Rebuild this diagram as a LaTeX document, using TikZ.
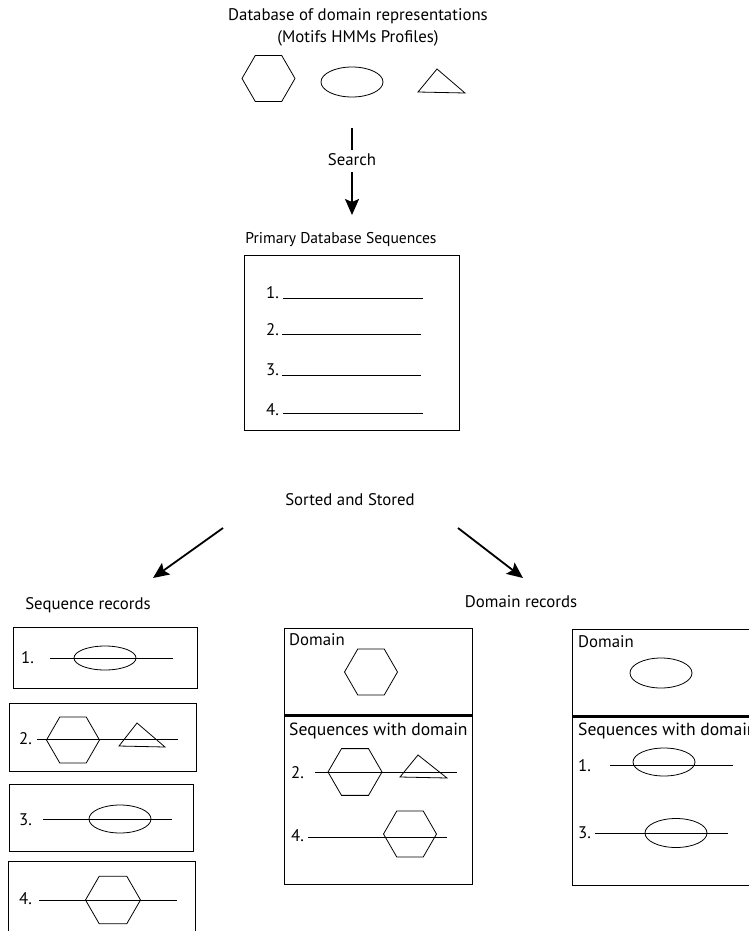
\documentclass[tikz,border=0pt]{standalone}
\usepackage{fontspec}
\setmainfont{PT Sans}
\usetikzlibrary{arrows.meta,shapes.geometric}
\begin{document}
\begin{tikzpicture}[x=1pt,y=-1pt,
  lbl/.style={font=\fontsize{16.8}{19}\selectfont, inner sep=0pt},
  hexa/.style={draw, regular polygon, regular polygon sides=6, minimum size=53pt, inner sep=0pt, line width=0.8pt},
  ell/.style={draw, ellipse, minimum width=62pt, minimum height=28pt, inner sep=0pt, line width=0.8pt},
  thin/.style={line width=0.8pt},
  box/.style={draw, line width=0.9pt, anchor=north west, inner sep=0pt},
  bigarrow/.style={line width=1.8pt, -{Stealth[length=16pt,width=14pt,inset=3pt]}}
]
\clip (0,0) rectangle (749,931);
% top
\node[lbl] (t1) at (358,16) {Database of domain representations};
\node[lbl] (t2) at (358,38) {(Motifs HMMs Profiles)};
\node[hexa] (h0) at (268.5,78.5) {};
\node[ell, minimum height=30pt] (e0) at (352,82) {};
\draw[thin] (418,92) -- (437,69) -- (465,93) -- cycle;
% search
\coordinate (s0) at (352,128);
\coordinate (s1) at (352,150);
\node[lbl] (search) at (352,160) {Search};
\coordinate (s2) at (352,172);
\coordinate (s3) at (352,215);
\draw[line width=1.8pt] (s0) -- (s1);
\draw[bigarrow] (s2) -- (s3);
% primary
\node[lbl, font=\fontsize{15.6}{18}\selectfont] (ptitle) at (341,240) {Primary Database Sequences};
\node[box, minimum width=215pt, minimum height=175pt] (pbox) at (244,255) {};
\node[lbl, anchor=base west] (p1) at (266,298) {1.};
\draw[thin] (283,298) -- (423,298);
\node[lbl, anchor=base west] (p2) at (266,335) {2.};
\draw[thin] (282,334) -- (421,334);
\node[lbl, anchor=base west] (p3) at (266,375) {3.};
\draw[thin] (282,375) -- (421,375);
\node[lbl, anchor=base west] (p4) at (266,415) {4.};
\draw[thin] (283,413) -- (423,413);
% sorted
\node[lbl] (sorted) at (350,500) {Sorted and Stored};
\coordinate (a1) at (223,528);
\coordinate (a2) at (153,578);
\coordinate (b1) at (458,528);
\coordinate (b2) at (523,578);
\draw[bigarrow] (a1) -- (a2);
\draw[bigarrow] (b1) -- (b2);
\node[lbl] (seqrec) at (88,605) {Sequence records};
\node[lbl] (domrec) at (521,602) {Domain records};
% sequence records
\node[box, minimum width=184pt, minimum height=61pt] (sb1) at (13,627) {};
\node[lbl, anchor=base west] (q1) at (21,663) {1.};
\draw[thin] (50,658) -- (173,658);
\node[ell, minimum height=24pt] (qe1) at (105,658) {};

\node[box, minimum width=187pt, minimum height=68pt] (sb2) at (9,703) {};
\node[lbl, anchor=base west] (q2) at (19,744) {2.};
\draw[thin] (37,739) -- (178,739);
\node[hexa] (qh2) at (73,740) {};
\draw[thin] (119,746) -- (137,723) -- (165,747) -- cycle;

\node[box, minimum width=184pt, minimum height=67pt] (sb3) at (9,784) {};
\node[lbl, anchor=base west] (q3) at (19,825) {3.};
\draw[thin] (43,819) -- (172,819);
\node[ell] (qe3) at (120,819) {};

\draw[line width=0.9pt] (8,945) -- (8,861) -- (195,861) -- (195,945);
\node[lbl, anchor=base west] (q4) at (19,904) {4.};
\draw[thin] (39,900) -- (177,900);
\node[hexa, minimum size=55pt] (qh4) at (113,900) {};

% domain record 1
\node[box, minimum width=188pt, minimum height=256pt] (db1) at (284,628) {};
\draw[line width=3pt] (284,715) -- (472,715);
\node[lbl, anchor=base west] (d1t) at (289,645) {Domain};
\node[hexa] (d1h) at (371,672) {};
\node[lbl, anchor=base west, font=\fontsize{17.6}{20}\selectfont] (d1s) at (289,735) {Sequences with domain};
\node[lbl, anchor=base west] (d12) at (291,778) {2.};
\draw[thin] (315,772) -- (457,772);
\node[hexa, minimum size=54pt] (d12h) at (355,772) {};
\draw[thin] (400,777) -- (418,755) -- (447,778) -- cycle;
\node[lbl, anchor=base west] (d14) at (291,841) {4.};
\draw[thin] (308,837) -- (447,837);
\node[hexa] (d14h) at (410,834) {};

% domain record 2
\node[box, minimum width=200pt, minimum height=256pt] (db2) at (572,629) {};
\draw[line width=3pt] (572,716) -- (772,716);
\node[lbl, anchor=base west] (d2t) at (578,647) {Domain};
\node[ell, minimum height=30pt] (d2e) at (661,673) {};
\node[lbl, anchor=base west, font=\fontsize{17.6}{20}\selectfont] (d2s) at (578,735) {Sequences with domain};
\node[lbl, anchor=base west] (d21) at (578,771) {1.};
\draw[thin] (610,765) -- (733,765);
\node[ell] (d21e) at (664,762) {};
\node[lbl, anchor=base west] (d23) at (578,838) {3.};
\draw[thin] (595,833) -- (728,833);
\node[ell, minimum height=29pt] (d23e) at (676,833) {};
\end{tikzpicture}
\end{document}
